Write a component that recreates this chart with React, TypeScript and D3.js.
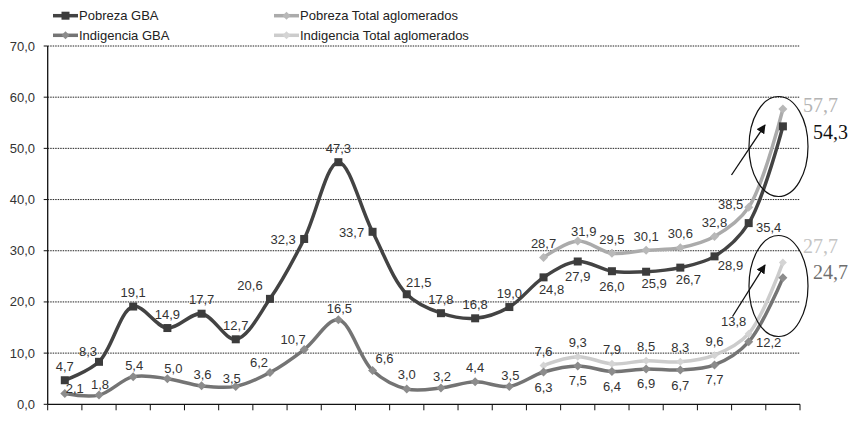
import React from "react";
import * as d3 from "d3";

// ---- Data ----
const categoryCount = 22;
const categories = d3.range(categoryCount).map((i) => `P${i + 1}`);
const yTicks = [0, 10, 20, 30, 40, 50, 60, 70];

const pobrezaGBA = [4.7, 8.3, 19.1, 14.9, 17.7, 12.7, 20.6, 32.3, 47.3, 33.7, 21.5, 17.8, 16.8, 19.0, 24.8, 27.9, 26.0, 25.9, 26.7, 28.9, 35.4, 54.3];
const indigenciaGBA = [2.1, 1.8, 5.4, 5.0, 3.6, 3.5, 6.2, 10.7, 16.5, 6.6, 3.0, 3.2, 4.4, 3.5, 6.3, 7.5, 6.4, 6.9, 6.7, 7.7, 12.2, 24.7];
const pobrezaTotal: (number | null)[] = [null, null, null, null, null, null, null, null, null, null, null, null, null, null, 28.7, 31.9, 29.5, 30.1, 30.6, 32.8, 38.5, 57.7];
const indigenciaTotal: (number | null)[] = [null, null, null, null, null, null, null, null, null, null, null, null, null, null, 7.6, 9.3, 7.9, 8.5, 8.3, 9.6, 13.8, 27.7];

// label placement codes (separate from values)
const pobrezaGBALabelPos = ["a", "al", "a", "a", "a", "a", "all", "l", "a", "l", "ar", "a", "a", "a", "br", "b", "b", "br", "br", "rb", "r", "B2"];
const indigenciaGBALabelPos = ["ru", "a2", "a2", "ae", "a2", "ua", "al", "al", "a2", "ar", "a", "a2", "a", "a2", "b", "b", "b", "b", "b", "b", "r0", "B4"];
const pobrezaTotalLabelPos = ["", "", "", "", "", "", "", "", "", "", "", "", "", "", "a", "ae", "a", "a", "a", "a", "l2", "B1"];
const indigenciaTotalLabelPos = ["", "", "", "", "", "", "", "", "", "", "", "", "", "", "a", "a", "a", "a", "a", "a", "all2", "B3"];

const posMap: Record<string, [number, number]> = {
  a: [0, -14],
  a2: [1, -11],
  ae: [6, -10],
  ua: [-4, -8],
  b: [0, 15],
  al: [-11, -10],
  all: [-20, -13],
  all2: [-15, -12],
  ar: [12, -12],
  ru: [10, -5],
  br: [8, 12],
  rb: [16, 9],
  l: [-21, 1],
  l2: [-18, -3],
  r: [20, 4],
  r0: [20, 1],
  B1: [20, -4],
  B2: [30, 6],
  B3: [20, -17],
  B4: [30, -6],
};

const fmt = (v: number) => v.toFixed(1).replace(".", ",");

// ---- Layout ----
const W = 855;
const H = 425;
const x0 = 47.7;
const x1 = 800;
const yTop = 46;
const yBot = 404.3;

const x = d3.scaleBand<string>().domain(categories).range([x0, x1]).paddingInner(0).paddingOuter(0);
const y = d3.scaleLinear().domain([0, 70]).range([yBot, yTop]);
const cx = (i: number) => (x(categories[i]) as number) + x.bandwidth() / 2;

const line = d3
  .line<[number, number | null]>()
  .defined((d) => d[1] != null)
  .x((d) => cx(d[0]))
  .y((d) => y(d[1] as number))
  .curve(d3.curveCatmullRom.alpha(0.5));

interface Series {
  name: string;
  values: (number | null)[];
  pos: string[];
  color: string;
  marker: "square" | "diamond";
  markerColor: string;
  markerSize: number;
  bigColor: string;
}

const series: Series[] = [
  { name: "Indigencia Total aglomerados", values: indigenciaTotal, pos: indigenciaTotalLabelPos, color: "#cccccc", marker: "diamond", markerColor: "#d4d4d4", markerSize: 4, bigColor: "#c4c4c4" },
  { name: "Indigencia GBA", values: indigenciaGBA, pos: indigenciaGBALabelPos, color: "#747474", marker: "diamond", markerColor: "#8c8c8c", markerSize: 4.5, bigColor: "#6e6e6e" },
  { name: "Pobreza Total aglomerados", values: pobrezaTotal, pos: pobrezaTotalLabelPos, color: "#ababab", marker: "diamond", markerColor: "#b8b8b8", markerSize: 4.5, bigColor: "#b4b4b4" },
  { name: "Pobreza GBA", values: pobrezaGBA, pos: pobrezaGBALabelPos, color: "#434343", marker: "square", markerColor: "#3c3c3c", markerSize: 4, bigColor: "#111111" },
];

const legendItems = [
  { name: "Pobreza GBA", col: 0, row: 0 },
  { name: "Pobreza Total aglomerados", col: 1, row: 0 },
  { name: "Indigencia GBA", col: 0, row: 1 },
  { name: "Indigencia Total aglomerados", col: 1, row: 1 },
];

function Marker({ kind, cxp, cyp, size, color }: { kind: string; cxp: number; cyp: number; size: number; color: string }) {
  if (kind === "square") {
    return <rect x={cxp - size} y={cyp - size} width={size * 2} height={size * 2} fill={color} />;
  }
  const s = size;
  return <path d={`M${cxp},${cyp - s}L${cxp + s},${cyp}L${cxp},${cyp + s}L${cxp - s},${cyp}Z`} fill={color} />;
}

export default function App() {
  const font = "'Liberation Sans', Arial, sans-serif";
  const serif = "'Liberation Serif', 'Times New Roman', serif";
  const tickXs = d3.range(categoryCount + 1).map((i) => x0 + i * x.bandwidth());
  return (
    <svg width={W} height={H} style={{ position: "absolute", left: 0, top: 0, background: "#fff" }} fontFamily={font}>
      <defs>
        <marker id="arrow" viewBox="0 0 10 10" refX="9" refY="5" markerWidth="7" markerHeight="7" orient="auto">
          <path d="M0,0L10,5L0,10Z" fill="#111" />
        </marker>
      </defs>
      {/* grid */}
      {yTicks.filter((t) => t > 0).map((t) => (
        <line key={t} x1={x0} x2={x1} y1={y(t)} y2={y(t)} stroke="#222" strokeWidth={1} strokeDasharray="1.5,1" />
      ))}
      {/* y axis */}
      <line x1={x0} x2={x0} y1={yTop} y2={yBot} stroke="#111" strokeWidth={1.3} />
      {yTicks.map((t) => (
        <g key={t}>
          <line x1={x0 - 4} x2={x0} y1={y(t)} y2={y(t)} stroke="#111" strokeWidth={1} />
          <text x={35} y={y(t)} textAnchor="end" dominantBaseline="central" fontSize={13} fill="#333">
            {fmt(t)}
          </text>
        </g>
      ))}
      {/* x axis */}
      <line x1={x0} x2={x1} y1={yBot} y2={yBot} stroke="#111" strokeWidth={1.3} />
      {tickXs.map((tx, i) => (
        <line key={i} x1={tx} x2={tx} y1={yBot} y2={yBot + 6} stroke="#111" strokeWidth={1} />
      ))}
      {/* series lines */}
      {series.map((s) => (
        <path key={s.name} d={line(s.values.map((v, i) => [i, v] as [number, number | null])) || ""} fill="none" stroke={s.color} strokeWidth={3.5} />
      ))}
      {series.map((s) => (
        <g key={s.name + "m"}>
          {s.values.map((v, i) =>
            v == null ? null : <Marker key={i} kind={s.marker} cxp={cx(i)} cyp={y(v)} size={s.markerSize} color={s.markerColor} />
          )}
        </g>
      ))}
      {/* labels */}
      {series.map((s) => (
        <g key={s.name + "l"}>
          {s.values.map((v, i) => {
            if (v == null) return null;
            const code = s.pos[i];
            const off = posMap[code] || [0, -14];
            if (code.startsWith("B")) {
              return (
                <text key={i} x={cx(i) + off[0]} y={y(v) + off[1]} dominantBaseline="central" fontFamily={serif} fontSize={20} fill={s.bigColor}>
                  {fmt(v)}
                </text>
              );
            }
            return (
              <text key={i} x={cx(i) + off[0]} y={y(v) + off[1]} textAnchor="middle" dominantBaseline="central" fontSize={13} fill="#333">
                {fmt(v)}
              </text>
            );
          })}
        </g>
      ))}
      {/* annotations */}
      <ellipse cx={778.5} cy={146.5} rx={29.5} ry={50} fill="none" stroke="#111" strokeWidth={1.2} />
      <ellipse cx={778.5} cy={286} rx={29.5} ry={50.5} fill="none" stroke="#111" strokeWidth={1.2} />
      <line x1={731.5} y1={175} x2={765} y2={125} stroke="#111" strokeWidth={1.3} markerEnd="url(#arrow)" />
      <line x1={732.5} y1={316.5} x2={765} y2={265} stroke="#111" strokeWidth={1.3} markerEnd="url(#arrow)" />
      {/* legend */}
      {legendItems.map((l) => {
        const s = series.find((q) => q.name === l.name)!;
        const lx = l.col === 0 ? 53 : 274;
        const ly = l.row === 0 ? 15.7 : 35.3;
        return (
          <g key={l.name}>
            <line x1={lx} x2={lx + 25} y1={ly} y2={ly} stroke={s.color} strokeWidth={3.5} />
            <Marker kind={s.marker} cxp={lx + 12.5} cyp={ly} size={s.marker === "square" ? 4 : 4} color={s.markerColor} />
            <text x={lx + 26} y={ly} dominantBaseline="central" fontSize={13} fill="#222">
              {l.name}
            </text>
          </g>
        );
      })}
    </svg>
  );
}
